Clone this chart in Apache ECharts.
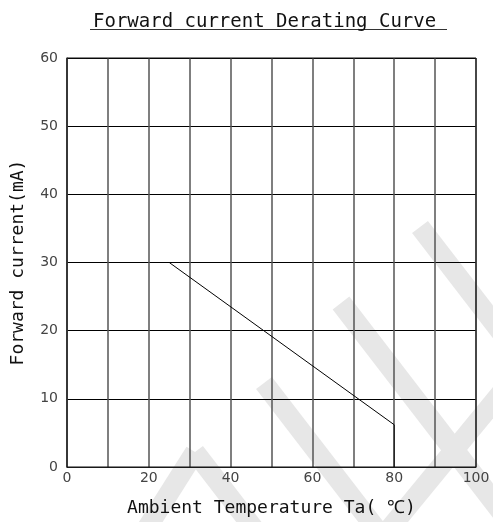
<!DOCTYPE html>
<html>
<head>
<meta charset="utf-8">
<script src="https://cdn.jsdelivr.net/npm/echarts@6/dist/echarts.min.js"></script>
<style>html,body{margin:0;padding:0;background:#fff}#c{width:493px;height:522px}</style>
</head>
<body>
<div id="c"></div>
<script>
// ---- data ----
var titleText = 'Forward current Derating Curve';
var xName = 'Ambient Temperature Ta( \u2103)';
var yName = 'Forward current(mA)';
var xMin = 0, xMax = 100, xStep = 10;
var yMin = 0, yMax = 60, yStep = 10;
var xLabels = [0, 20, 40, 60, 80, 100];
var tempC = [25, 80, 80];
var currentMA = [30, 6.2, 0];

var chart = echarts.init(document.getElementById('c'));

// decorative watermark stripes (background)
function stripe(mx, my, dx, dy, len, w) {
  var l = Math.sqrt(dx*dx + dy*dy); dx /= l; dy /= l;
  var nx = -dy * w / 2, ny = dx * w / 2;
  return [[mx+nx, my+ny], [mx-nx, my-ny], [mx-nx+dx*len, my-ny+dy*len], [mx+nx+dx*len, my+ny+dy*len]];
}
var wm = [
  stripe(195, 452, 1, 1.3, 120, 20),
  stripe(195, 452, -0.6, 0.95, 120, 20),
  stripe(264, 383, 1, 1.3, 200, 20),
  stripe(341, 303, 1, 1.3, 300, 21),
  stripe(420, 227, 1, 1.3, 200, 20),
  stripe(455, 449, 0.635, -0.773, 200, 20),
  stripe(455, 449, -0.635, 0.773, 120, 20)
];
var graphics = wm.map(function (p) {
  return { type: 'polygon', z: -10, silent: true, shape: { points: p }, style: { fill: '#e7e7e7' } };
});
graphics.push({ type: 'line', z: 5, shape: { x1: 90, y1: 29.5, x2: 447, y2: 29.5 }, style: { stroke: '#333', lineWidth: 1 } });

var data = tempC.map(function (t, i) { return [t, currentMA[i]]; });

chart.setOption({
  backgroundColor: '#fff',
  animation: false,
  title: {
    text: titleText, left: 88, top: 8,
    textStyle: { fontFamily: 'DejaVu Sans Mono', fontSize: 19, fontWeight: 'normal', color: '#111' }
  },
  graphic: graphics,
  grid: { left: 67, right: 17, top: 58, bottom: 54, show: true, borderColor: '#111', borderWidth: 1, backgroundColor: 'transparent', z: 1 },
  xAxis: {
    type: 'value', min: xMin, max: xMax, interval: xStep,
    name: xName, nameLocation: 'middle', nameGap: 32,
    nameTextStyle: { fontFamily: 'DejaVu Sans Mono', fontSize: 18, color: '#111' },
    axisLine: { show: true, lineStyle: { color: '#222', width: 1 } },
    axisTick: { show: false },
    axisLabel: {
      margin: 4, fontFamily: 'DejaVu Sans', fontSize: 14, color: '#444',
      formatter: function (v) { return xLabels.indexOf(v) >= 0 ? String(v) : ''; }
    },
    splitLine: { show: true, lineStyle: { color: '#555', width: 1.5 } }
  },
  yAxis: {
    type: 'value', min: yMin, max: yMax, interval: yStep,
    name: yName, nameLocation: 'middle', nameGap: 40,
    nameTextStyle: { fontFamily: 'DejaVu Sans Mono', fontSize: 18, color: '#111' },
    axisLine: { show: true, lineStyle: { color: '#555', width: 1.5 } },
    axisTick: { show: false },
    axisLabel: { margin: 9, fontFamily: 'DejaVu Sans', fontSize: 14, color: '#444' },
    splitLine: { show: true, lineStyle: { color: '#000', width: 1 } }
  },
  series: [{
    type: 'line', data: data, showSymbol: false, symbol: 'none',
    lineStyle: { color: '#000', width: 1 }, z: 3
  }]
});
</script>
</body>
</html>
